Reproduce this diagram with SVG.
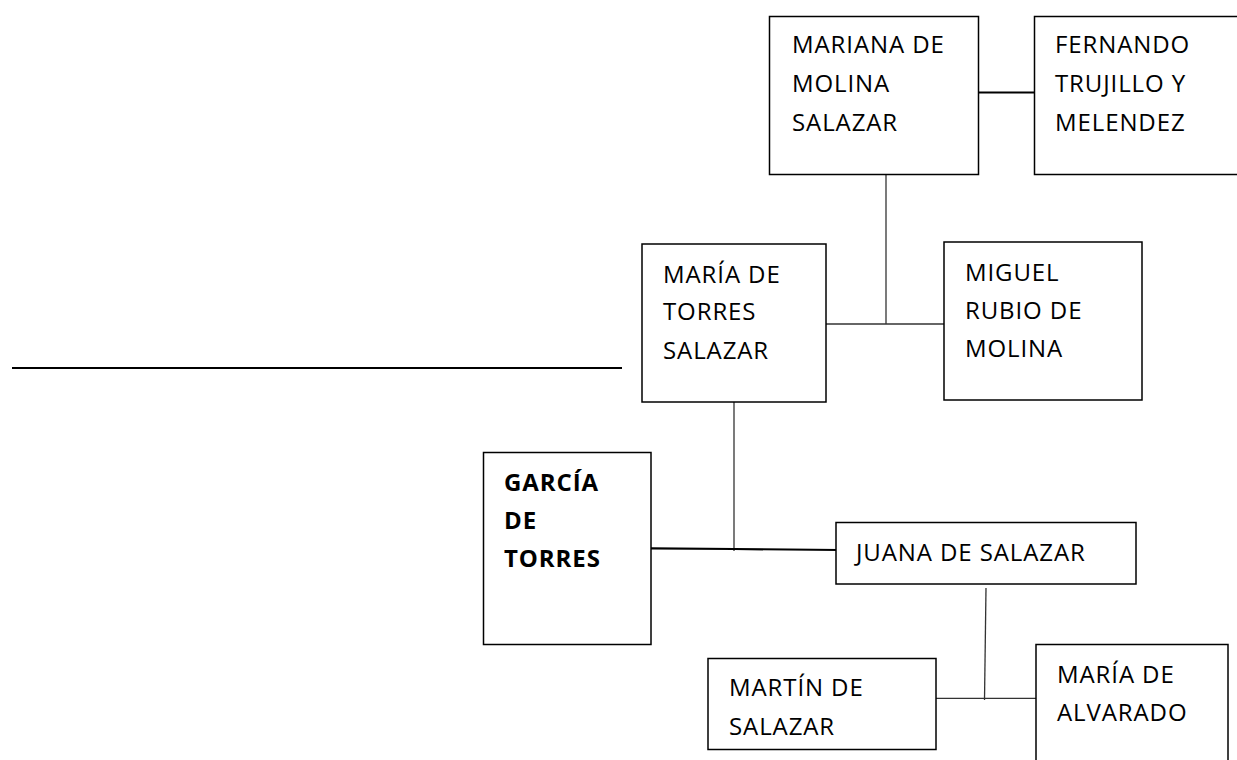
<svg xmlns="http://www.w3.org/2000/svg" width="1237" height="760" viewBox="0 0 1237 760">
<style>
.box{fill:#fff;stroke:#000;stroke-width:1.5}
.t{font-family:"Open Sans","Liberation Sans",sans-serif;font-size:24px;letter-spacing:0.9px;fill:#000}
.b{font-weight:bold}
.c1{stroke:#333;stroke-width:1.3;fill:none}
.c2{stroke:#000;stroke-width:2.2;fill:none}
</style>
<rect width="1237" height="760" fill="#fff"/>
<g id="connectors">
<line class="c2" x1="12" y1="368" x2="622" y2="368"/>
<line class="c2" x1="978" y1="92.5" x2="1037" y2="92.5"/>
<line class="c1" x1="886" y1="174" x2="886" y2="324"/>
<line class="c1" x1="826" y1="324" x2="946" y2="324"/>
<line class="c1" x1="734" y1="402" x2="734" y2="551"/>
<polyline class="c2" points="651,548.3 734,549 839,550"/>
<line class="c1" x1="986" y1="588" x2="984.5" y2="700"/>
<line class="c1" x1="936" y1="698.3" x2="1039" y2="698.3"/>
</g>
<g id="mariana">
<rect class="box" x="769.5" y="16.5" width="209" height="158"/>
<text class="t" x="792" y="53">MARIANA DE</text>
<text class="t" x="792" y="92">MOLINA</text>
<text class="t" x="792" y="131">SALAZAR</text>
</g>
<g id="fernando">
<rect class="box" x="1034.5" y="16.5" width="220" height="158"/>
<text class="t" x="1055" y="53">FERNANDO</text>
<text class="t" x="1055" y="92">TRUJILLO Y</text>
<text class="t" x="1055" y="131">MELENDEZ</text>
</g>
<g id="maria-torres">
<rect class="box" x="642" y="244" width="184" height="158"/>
<text class="t" x="663" y="283">MARÍA DE</text>
<text class="t" x="663" y="320">TORRES</text>
<text class="t" x="663" y="359">SALAZAR</text>
</g>
<g id="miguel">
<rect class="box" x="944" y="242" width="198" height="158"/>
<text class="t" x="965" y="281">MIGUEL</text>
<text class="t" x="965" y="319">RUBIO DE</text>
<text class="t" x="965" y="357">MOLINA</text>
</g>
<g id="garcia">
<rect class="box" x="483.5" y="452.5" width="167.5" height="192"/>
<text class="t b" x="504" y="491">GARCÍA</text>
<text class="t b" x="504" y="529">DE</text>
<text class="t b" x="504" y="567">TORRES</text>
</g>
<g id="juana">
<rect class="box" x="836" y="522.5" width="300" height="61.5"/>
<text class="t" x="856" y="561">JUANA DE SALAZAR</text>
</g>
<g id="martin">
<rect class="box" x="708" y="658.5" width="228" height="91"/>
<text class="t" x="729" y="696">MARTÍN DE</text>
<text class="t" x="729" y="735">SALAZAR</text>
</g>
<g id="maria-alvarado">
<rect class="box" x="1036" y="644.5" width="192" height="130"/>
<text class="t" x="1057" y="683">MARÍA DE</text>
<text class="t" x="1057" y="721">ALVARADO</text>
</g>
</svg>
